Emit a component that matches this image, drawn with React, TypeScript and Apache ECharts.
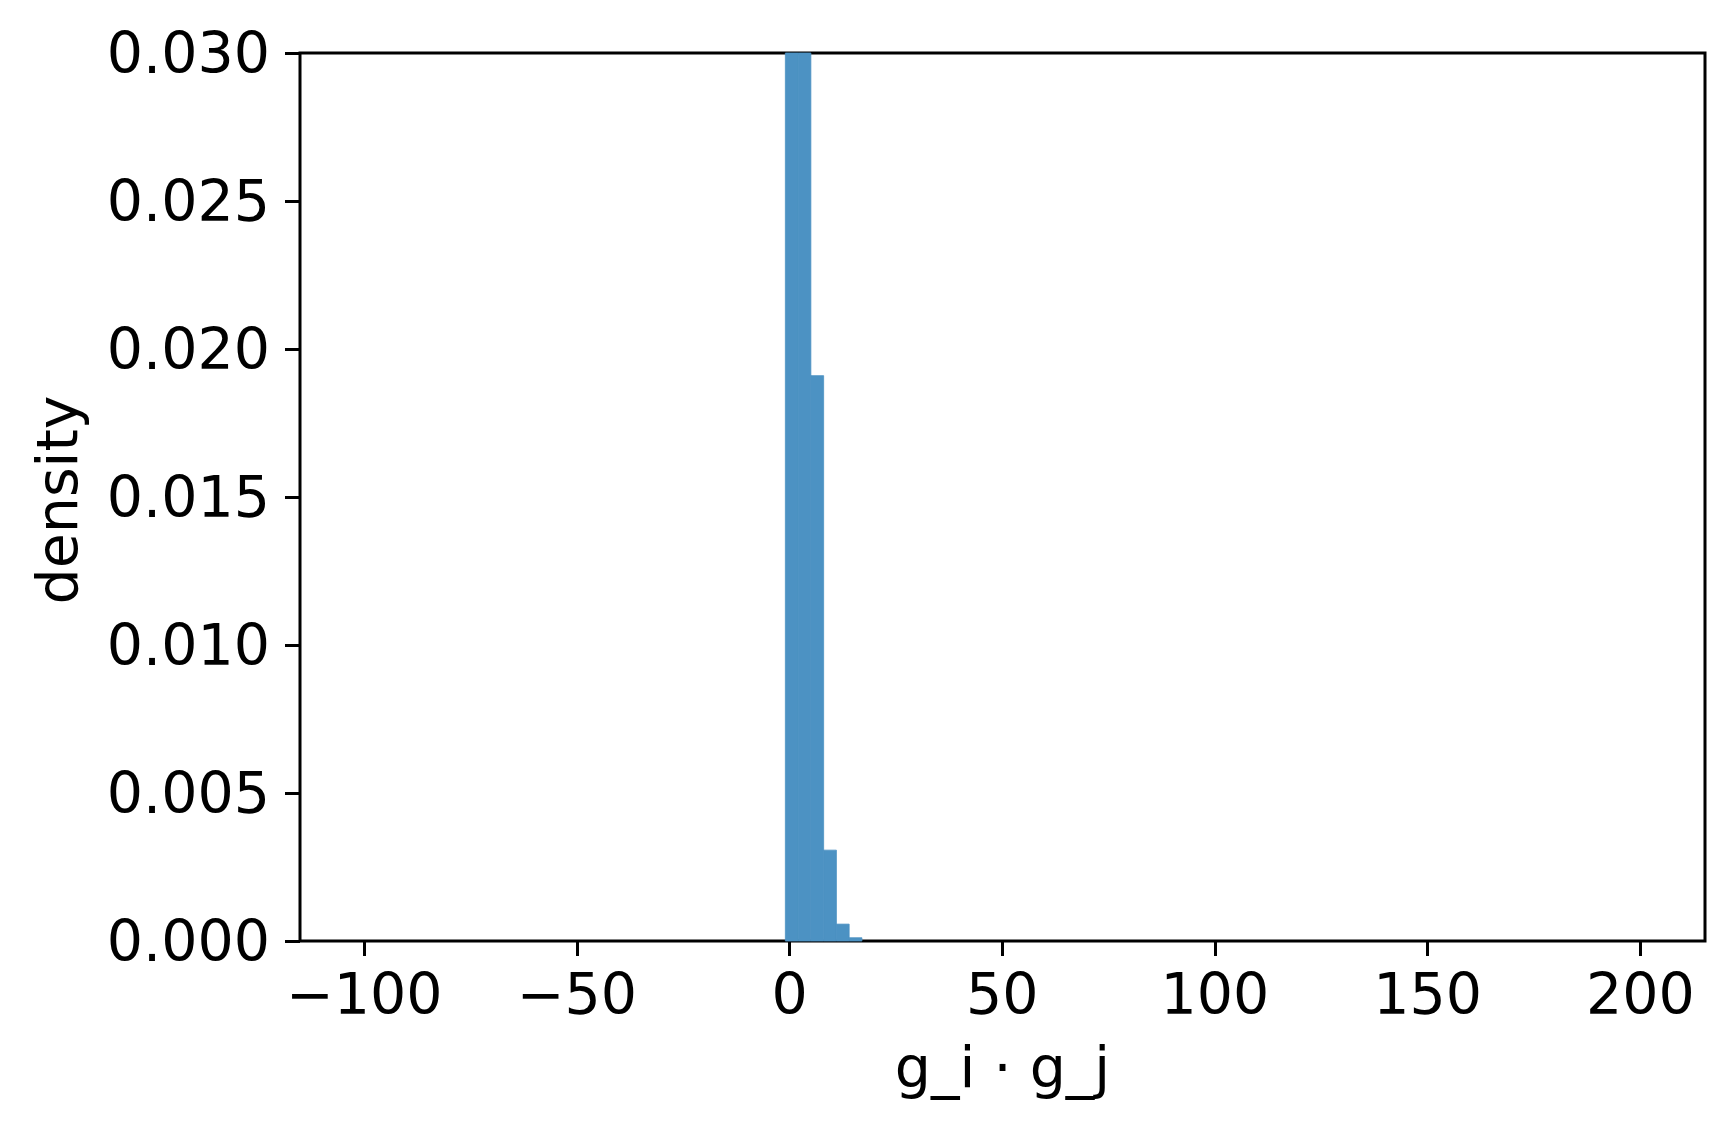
import React, { useEffect, useRef } from "react";
import * as echarts from "echarts";

// Histogram bins (left edges), common bin width, and density values
const binLefts = [-1, 2, 5, 8, 11, 14];
const binWidth = 3;
const densities = [0.172, 0.138, 0.0191, 0.00307, 0.00057, 0.00011];

const xTicks = [-100, -50, 0, 50, 100, 150, 200];
const yTicks = [0, 0.005, 0.01, 0.015, 0.02, 0.025, 0.03];

const xLabel = "g_i · g_j";
const yLabel = "density";

const FONT = "DejaVu Sans";
const FS = 57;

export default function App() {
  const ref = useRef<HTMLDivElement>(null);

  useEffect(() => {
    if (!ref.current) return;
    const chart = echarts.init(ref.current, null, { renderer: "svg" });
    const data = binLefts.map((l, i) => [l, l + binWidth, densities[i]]);
    const fmtX = (v: number) => (v < 0 ? "\u2212" + Math.abs(v) : String(v));
    chart.setOption({
      animation: false,
      backgroundColor: "#ffffff",
      grid: {
        left: 300,
        right: 29,
        top: 53,
        bottom: 192,
        show: true,
        borderColor: "#000000",
        borderWidth: 3,
        backgroundColor: "transparent",
      },
      xAxis: {
        type: "value",
        min: -115.1,
        max: 215.2,
        splitLine: { show: false },
        axisLine: { show: false, onZero: false },
        axisTick: {
          show: true,
          length: 15,
          lineStyle: { color: "#000", width: 3 },
          customValues: xTicks,
        },
        axisLabel: {
          customValues: xTicks,
          formatter: (v: number) => fmtX(v),
          fontFamily: FONT,
          fontSize: FS,
          color: "#000",
          margin: 24,
        },
      },
      yAxis: {
        type: "value",
        min: 0,
        max: 0.03,
        interval: 0.005,
        splitLine: { show: false },
        axisLine: { show: false, onZero: false },
        axisTick: {
          show: true,
          length: 15,
          lineStyle: { color: "#000", width: 3 },
          customValues: yTicks,
        },
        axisLabel: {
          customValues: yTicks,
          formatter: (v: number) => v.toFixed(3),
          fontFamily: FONT,
          fontSize: FS,
          color: "#000",
          margin: 30,
        },
      },
      graphic: [
        {
          type: "text",
          x: 1002.5,
          y: 1067,
          style: {
            text: xLabel,
            font: `${FS}px "${FONT}"`,
            fill: "#000",
            textAlign: "center",
            textVerticalAlign: "middle",
          },
        },
        {
          type: "text",
          x: 57,
          y: 500,
          rotation: Math.PI / 2,
          style: {
            text: yLabel,
            font: `${FS}px "${FONT}"`,
            fill: "#000",
            textAlign: "center",
            textVerticalAlign: "middle",
          },
        },
      ],
      series: [
        {
          type: "custom",
          data,
          renderItem: (params: any, api: any) => {
            const x0 = api.value(0);
            const x1 = api.value(1);
            const y = api.value(2);
            const p0 = api.coord([x0, y]);
            const p1 = api.coord([x1, 0]);
            const cs = params.coordSys;
            const rect = echarts.graphic.clipRectByRect(
              { x: p0[0], y: p0[1], width: p1[0] - p0[0], height: p1[1] - p0[1] },
              { x: cs.x, y: cs.y, width: cs.width, height: cs.height }
            );
            return (
              rect && {
                type: "rect",
                shape: rect,
                style: { fill: "#4c92c3", stroke: "#4c92c3", lineWidth: 0.8 },
              }
            );
          },
        },
      ],
    });
    return () => chart.dispose();
  }, []);

  return (
    <div
      ref={ref}
      style={{ position: "fixed", left: 0, top: 0, width: 1734, height: 1133 }}
    />
  );
}
